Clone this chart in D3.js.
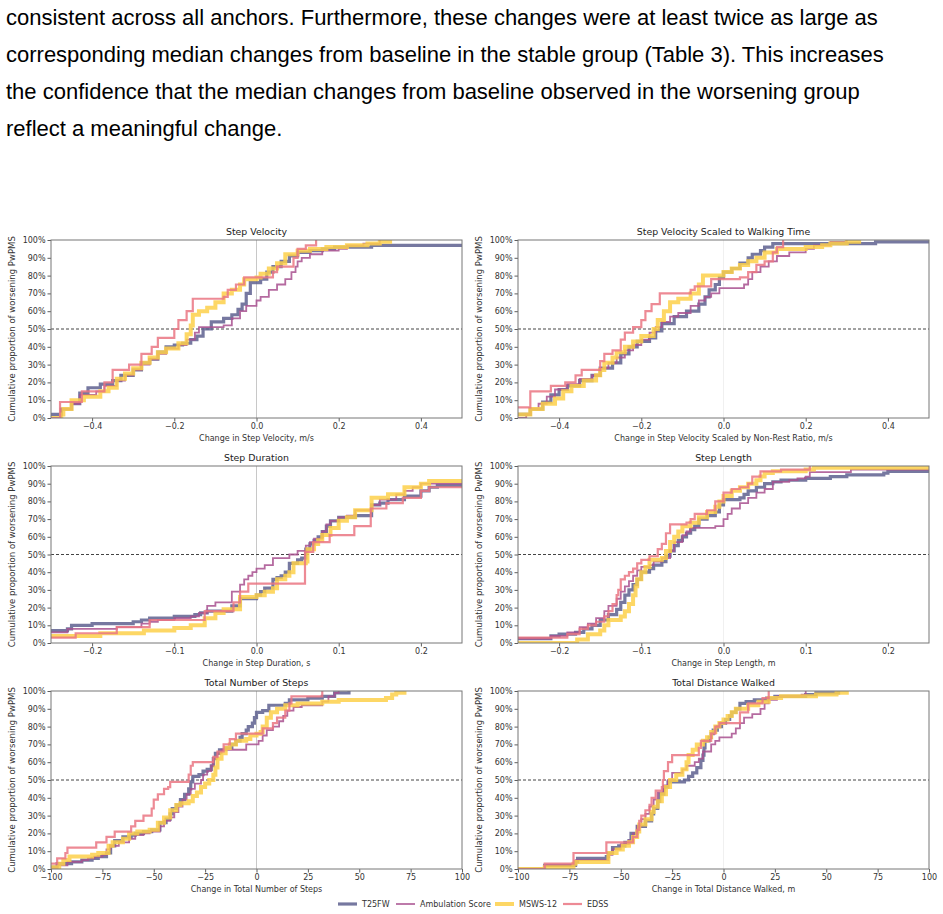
<!DOCTYPE html>
<html>
<head>
<meta charset="utf-8">
<script src="https://cdn.jsdelivr.net/npm/d3@7"></script>
<style>
  body { margin: 0; background: #fff; }
  svg { display: block; }
</style>
</head>
<body>
<svg id="chart"></svg>
<script>
// paragraph above the figure
const paragraph = [
  "consistent across all anchors. Furthermore, these changes were at least twice as large as",
  "corresponding median changes from baseline in the stable group (Table 3). This increases",
  "the confidence that the median changes from baseline observed in the worsening group",
  "reflect a meaningful change."
]

const anchors = ["T25FW", "Ambulation Score", "MSWS-12", "EDSS"]
const yTicks = [0, 10, 20, 30, 40, 50, 60, 70, 80, 90, 100]

// each series: [change from baseline, cumulative % of worsening PwPMS]
const velT25 = [[-0.6,2],[-0.475,5],[-0.45,8],[-0.43,14],[-0.41,17],[-0.38,19],[-0.35,21],[-0.33,24],[-0.3,27],[-0.28,31],[-0.26,33],[-0.24,37],[-0.22,40],[-0.2,41],[-0.18,42],[-0.16,44],[-0.145,46],[-0.13,50],[-0.11,54],[-0.08,56],[-0.06,58],[-0.045,61],[-0.035,64],[-0.025,70],[-0.015,76],[0.01,78],[0.025,82],[0.04,85],[0.06,88],[0.08,91],[0.1,93],[0.13,94],[0.16,95],[0.19,96],[0.28,97],[0.6,97]]
const velAmb = [[-0.475,5],[-0.45,8],[-0.43,13],[-0.39,15],[-0.37,18],[-0.34,21],[-0.32,24],[-0.3,27],[-0.28,30],[-0.26,33],[-0.24,36],[-0.22,39],[-0.19,41],[-0.17,44],[-0.15,48],[-0.14,51],[-0.08,52],[-0.06,56],[-0.04,60],[-0.025,63],[0,66],[0.01,68],[0.03,72],[0.05,75],[0.07,78],[0.085,82],[0.095,85],[0.1,88],[0.11,90],[0.13,92],[0.16,94],[0.2,95],[0.22,97],[0.26,98],[0.3,100]]
const velMsws = [[-0.475,2],[-0.47,5],[-0.45,10],[-0.42,12],[-0.38,15],[-0.36,17],[-0.34,22],[-0.32,25],[-0.3,28],[-0.28,31],[-0.26,34],[-0.24,37],[-0.22,39],[-0.19,42],[-0.17,47],[-0.16,52],[-0.155,58],[-0.14,60],[-0.12,62],[-0.1,65],[-0.08,70],[-0.06,72],[-0.04,75],[-0.03,78],[0,79],[0.01,81],[0.03,84],[0.05,87],[0.07,92],[0.1,94],[0.13,95],[0.17,96],[0.22,97],[0.27,98],[0.3,99],[0.325,100]]
const velEdss = [[-0.478,9],[-0.425,15],[-0.37,20],[-0.35,27],[-0.31,30],[-0.28,36],[-0.255,40],[-0.24,45],[-0.2,50],[-0.19,55],[-0.17,60],[-0.155,67],[-0.08,68],[-0.07,72],[-0.05,75],[-0.03,79],[0.04,82],[0.05,85],[0.09,90],[0.1,95],[0.12,97],[0.145,100]]

const velsT25 = [[-0.6,2],[-0.47,5],[-0.44,9],[-0.42,13],[-0.4,16],[-0.38,18],[-0.35,21],[-0.32,24],[-0.3,28],[-0.27,31],[-0.25,36],[-0.23,40],[-0.21,43],[-0.18,45],[-0.165,49],[-0.15,53],[-0.12,57],[-0.09,60],[-0.06,64],[-0.045,68],[-0.035,72],[-0.02,75],[-0.01,79],[0,82],[0.02,84],[0.04,87],[0.06,90],[0.07,92],[0.09,94],[0.1,96],[0.12,98],[0.37,99],[0.6,99]]
const velsAmb = [[-0.48,2],[-0.47,5],[-0.45,8],[-0.43,12],[-0.41,16],[-0.38,19],[-0.35,22],[-0.32,24],[-0.3,28],[-0.28,31],[-0.26,34],[-0.24,38],[-0.22,41],[-0.2,44],[-0.18,48],[-0.165,51],[-0.15,54],[-0.13,57],[-0.11,59],[-0.08,63],[-0.06,66],[-0.045,68],[-0.03,70],[-0.01,73],[0.05,75],[0.06,78],[0.07,82],[0.09,85],[0.11,88],[0.13,91],[0.16,93],[0.2,95],[0.22,97],[0.26,99],[0.3,100]]
const velsMsws = [[-0.6,2],[-0.47,5],[-0.44,8],[-0.41,11],[-0.39,15],[-0.37,18],[-0.34,21],[-0.31,24],[-0.3,27],[-0.29,31],[-0.27,34],[-0.26,37],[-0.24,40],[-0.22,43],[-0.2,46],[-0.17,50],[-0.16,55],[-0.145,60],[-0.13,65],[-0.11,67],[-0.08,70],[-0.06,75],[-0.05,80],[0,82],[0.02,84],[0.04,86],[0.06,88],[0.08,90],[0.1,93],[0.13,95],[0.2,96],[0.24,97],[0.26,98],[0.3,99],[0.33,100]]
const velsEdss = [[-0.6,6],[-0.47,15],[-0.42,18],[-0.385,20],[-0.36,24],[-0.345,27],[-0.3,32],[-0.29,36],[-0.27,38],[-0.25,44],[-0.24,48],[-0.22,51],[-0.2,55],[-0.19,60],[-0.175,64],[-0.155,70],[-0.08,72],[-0.07,74],[-0.03,78],[0.04,79],[0.06,82],[0.08,86],[0.1,88],[0.12,93],[0.13,96],[0.145,100]]

const durT25 = [[-0.3,7],[-0.23,8],[-0.225,10],[-0.2,11],[-0.15,12],[-0.14,13],[-0.13,14],[-0.1,15],[-0.075,16],[-0.068,17],[-0.06,18],[-0.03,21],[-0.02,25],[0,27],[0.005,29],[0.01,31],[0.02,36],[0.025,37],[0.03,38],[0.035,40],[0.04,45],[0.05,47],[0.055,48],[0.06,53],[0.065,56],[0.07,58],[0.075,60],[0.08,63],[0.085,66],[0.09,69],[0.1,71],[0.12,72],[0.14,78],[0.15,79],[0.16,81],[0.18,83],[0.2,86],[0.21,88],[0.22,89],[0.3,89]]
const durAmb = [[-0.3,6],[-0.23,8],[-0.17,9],[-0.14,11],[-0.13,12],[-0.12,13],[-0.1,14],[-0.08,15],[-0.07,17],[-0.06,21],[-0.05,23],[-0.03,29],[-0.02,33],[-0.015,36],[-0.01,38],[-0.005,40],[0,42],[0.01,44],[0.02,48],[0.04,50],[0.05,52],[0.06,55],[0.065,57],[0.07,59],[0.08,63],[0.085,67],[0.09,69],[0.1,71],[0.11,72],[0.12,75],[0.14,78],[0.15,81],[0.17,84],[0.18,86],[0.19,88],[0.2,90],[0.3,90]]
const durMsws = [[-0.3,4],[-0.19,5.5],[-0.137,7],[-0.1,8.5],[-0.08,10],[-0.063,14],[-0.05,17],[-0.04,19],[-0.02,26],[0,27],[0.01,29],[0.02,31],[0.025,36],[0.035,38],[0.04,40],[0.045,45],[0.06,46],[0.062,53],[0.07,56],[0.075,58],[0.08,61],[0.09,65],[0.1,69],[0.11,71],[0.12,75],[0.14,82],[0.16,84],[0.18,88],[0.2,90],[0.21,91.5],[0.3,91.5]]
const durEdss = [[-0.3,3],[-0.22,5.5],[-0.17,9],[-0.13,13],[-0.063,18],[-0.028,23],[-0.02,29],[-0.01,33.6],[0.059,51.5],[0.069,57],[0.089,61],[0.119,66],[0.139,76],[0.158,79],[0.178,82],[0.2,86],[0.21,88],[0.3,88]]

const lenT25 = [[-0.3,2.5],[-0.21,4],[-0.2,5],[-0.18,6],[-0.17,8],[-0.16,10],[-0.15,13],[-0.14,16],[-0.13,19],[-0.125,23],[-0.12,27],[-0.115,30],[-0.11,33],[-0.105,36],[-0.1,40],[-0.09,42],[-0.085,44],[-0.075,46],[-0.07,49],[-0.065,52],[-0.06,55],[-0.055,58],[-0.05,60],[-0.045,62],[-0.04,64],[-0.035,66],[-0.03,70],[-0.02,72],[-0.01,74],[-0.005,78],[0,81],[0.02,82],[0.025,84],[0.03,86],[0.04,88],[0.05,90],[0.06,91],[0.07,92],[0.1,93],[0.13,94],[0.15,95],[0.195,96],[0.2,97],[0.3,97]]
const lenAmb = [[-0.3,2.5],[-0.21,4],[-0.19,6],[-0.175,9],[-0.165,11],[-0.155,14],[-0.145,18],[-0.14,21],[-0.13,25],[-0.125,29],[-0.12,32],[-0.115,35],[-0.11,38],[-0.105,41],[-0.1,43],[-0.09,44],[-0.085,46],[-0.075,48],[-0.065,52],[-0.06,57],[-0.05,61],[-0.045,63],[-0.04,65],[-0.01,66],[0,70],[0.005,73],[0.01,76],[0.02,79],[0.03,82],[0.04,85],[0.05,87],[0.06,91],[0.08,92],[0.09,93],[0.1,94],[0.105,96.5],[0.155,98],[0.3,98]]
const lenMsws = [[-0.178,2],[-0.165,5],[-0.15,7],[-0.145,10],[-0.14,13],[-0.125,15],[-0.12,18],[-0.115,22],[-0.11,27],[-0.107,32],[-0.105,36],[-0.1,40],[-0.095,43],[-0.09,47],[-0.075,48],[-0.07,52],[-0.065,57],[-0.06,60],[-0.055,63],[-0.05,66],[-0.04,68],[-0.03,71],[-0.02,74],[-0.01,77],[-0.005,80],[0,83],[0.01,86],[0.02,88],[0.03,90],[0.04,92],[0.045,94],[0.05,96],[0.06,97],[0.1,98],[0.11,99],[0.3,99]]
const lenEdss = [[-0.3,3],[-0.19,5],[-0.175,8],[-0.165,10],[-0.155,12],[-0.145,15],[-0.14,18],[-0.135,22],[-0.13,27],[-0.128,30],[-0.125,36],[-0.12,38],[-0.115,40],[-0.11,42],[-0.105,45],[-0.1,47],[-0.09,49],[-0.08,53],[-0.075,56],[-0.07,62],[-0.065,67],[-0.045,68],[-0.04,70],[-0.035,73],[-0.02,75],[-0.01,80],[0,85],[0.01,87],[0.02,88],[0.03,90],[0.035,94],[0.045,97],[0.07,98],[0.105,100]]

const stepsT25 = [[-120,1],[-97,3],[-90,4],[-85,5],[-80,6],[-77,7],[-73,9],[-71,13],[-69,16],[-65,18],[-61,19],[-59,20],[-55,21],[-51,22],[-47,26],[-44,28],[-42,31],[-41,34],[-39,36],[-37,39],[-35,42],[-33,45],[-32,49],[-31,52],[-28,53],[-26,55],[-24,56],[-22,58],[-21,62],[-20,65],[-18,67],[-15,68],[-12,70],[-10,72],[-8,74],[-7,76],[-5,78],[-4,80],[-2,82],[-1,85],[0,88],[3,89],[6,92],[14,93],[16,95],[25,96],[32,97],[38,99],[45,100]]
const stepsAmb = [[-120,0.5],[-97,2],[-92,4],[-85,5],[-82,6],[-79,7],[-75,8],[-73,11],[-71,13],[-67,15],[-62,17],[-59,19],[-55,20],[-52,21],[-47,24],[-45,27],[-42,29],[-40,32],[-38,35],[-36,39],[-34,42],[-32,45],[-30,48],[-27,50],[-26,53],[-24,55],[-22,58],[-21,62],[-19,65],[-17,67],[-5,70],[1,72],[3,75],[5,78],[8,80],[11,83],[13,86],[15,89],[18,91],[22,92],[32,94],[35,97],[38,99],[40,100]]
const stepsMsws = [[-120,1],[-96,3],[-94,5],[-91,7],[-80,8],[-77,9],[-72,13],[-70,15],[-65,17],[-62,20],[-58,21],[-52,22],[-48,26],[-45,29],[-42,33],[-39,36],[-37,37],[-33,38],[-31,41],[-29,43],[-27,46],[-25,48],[-23,50],[-21,53],[-20,57],[-19,62],[-17,65],[-15,68],[-13,70],[-10,72],[-5,73],[-3,75],[0,76],[2,77],[3,80],[5,85],[7,88],[10,90],[14,92],[20,93],[32,94],[40,95],[63,96],[66,98],[68,99],[72,100]]
const stepsEdss = [[-120,3],[-97,6],[-93,9],[-92,12],[-78,15],[-73,18],[-69,21],[-61,24],[-59,27],[-55,30],[-51,34],[-50,39],[-48,42],[-45,45],[-43,46],[-42,49],[-33,53],[-32,58],[-31,60],[-21,63],[-19,66],[-16,70],[-13,73],[-10,76],[3,79],[8,82],[10,85],[14,89],[16,93],[17,97],[32,100]]

const distT25 = [[-87,2],[-72,4],[-71,6],[-57,7],[-56,9],[-54,12],[-51,13],[-48,15],[-46,16],[-45,20],[-42,24],[-38,27],[-35,31],[-34,34],[-32,38],[-31,42],[-29,46],[-27,49],[-19,50],[-17,52],[-15,54],[-13,57],[-11,61],[-10,64],[-9.5,68],[-9,72],[-7,74],[-6,76],[-5,78],[-3,80],[-1,82],[1,84],[3,86],[4,88],[6,90],[8,93],[11,94],[15,95],[21,96],[25,97],[40,98],[45,99],[56,100]]
const distAmb = [[-87,2],[-73,3],[-72,5],[-56,8],[-54,11],[-50,14],[-46,16],[-44,20],[-42,24],[-40,28],[-38,31],[-36,35],[-34,39],[-32,43],[-29,47],[-27,50],[-25,54],[-20,56],[-18,58],[-14,60],[-12,62],[-10,66],[-6,70],[-4,72],[-2,74],[4,76],[6,79],[8,82],[10,85],[14,87],[18,90],[20,93],[22,95],[26,97],[38,98],[40,100]]
const distMsws = [[-87,1],[-73,3],[-72,4],[-56,9],[-52,11],[-49,13],[-46,15],[-44,18],[-42,21],[-41,25],[-38,28],[-35,32],[-34,35],[-32,38],[-30,42],[-28,46],[-26,50],[-23,53],[-20,56],[-18,60],[-17,64],[-15,67],[-13,70],[-10,72],[-8,74],[-6,77],[-4,80],[-2,82],[0,84],[2,86],[4,88],[6,90],[12,92],[17,94],[22,96],[28,97],[45,98],[55,99],[60,100]]
const distEdss = [[-87,3],[-73,9],[-57,15],[-44,18],[-42,22],[-41,27],[-40,30],[-38,33],[-36,36],[-35,40],[-33,44],[-30,46],[-29.5,50],[-29,55],[-27,60],[-25,64],[-12,68],[-11,72],[-6,76],[-4,80],[-2,82],[8,88],[12,93],[19,96],[22,100]]

const W = 943, H = 914
const svg = d3.select("#chart").attr("width", W).attr("height", H)

// text paragraph
svg.append("g").selectAll("text")
  .data(paragraph)
  .join("text")
  .attr("x", 6)
  .attr("y", (d, i) => 25 + i * 37)
  .attr("font-family", "'Liberation Sans', Arial, sans-serif")
  .attr("font-size", 22)
  .attr("fill", "#000")
  .text(d => d)

const styles = [
  {color: "#5e608f", width: 3.2, opacity: 0.85},
  {color: "#a8508f", width: 1.8, opacity: 0.85},
  {color: "#fdd04a", width: 4, opacity: 0.85},
  {color: "#ea7582", width: 2.2, opacity: 0.85}
]

const cols = [[51, 462], [518, 929]]
const rows = [[240, 418], [466, 643], [691, 869]]
const font = "'DejaVu Sans', sans-serif"

const panels = [
  {title: "Step Velocity", xlabel: "Change in Step Velocity, m/s", domain: [-0.5, 0.5], ticks: [-0.4, -0.2, 0, 0.2, 0.4], fmt: ".1f", series: [velT25, velAmb, velMsws, velEdss], zero: "#c8c8c8"},
  {title: "Step Velocity Scaled to Walking Time", xlabel: "Change in Step Velocity Scaled by Non-Rest Ratio, m/s", domain: [-0.5, 0.5], ticks: [-0.4, -0.2, 0, 0.2, 0.4], fmt: ".1f", series: [velsT25, velsAmb, velsMsws, velsEdss], zero: "#f0f0f0"},
  {title: "Step Duration", xlabel: "Change in Step Duration, s", domain: [-0.25, 0.25], ticks: [-0.2, -0.1, 0, 0.1, 0.2], fmt: ".1f", series: [durT25, durAmb, durMsws, durEdss], zero: "#c8c8c8"},
  {title: "Step Length", xlabel: "Change in Step Length, m", domain: [-0.25, 0.25], ticks: [-0.2, -0.1, 0, 0.1, 0.2], fmt: ".1f", series: [lenT25, lenAmb, lenMsws, lenEdss], zero: "#f0f0f0"},
  {title: "Total Number of Steps", xlabel: "Change in Total Number of Steps", domain: [-100, 100], ticks: [-100, -75, -50, -25, 0, 25, 50, 75, 100], fmt: "d", series: [stepsT25, stepsAmb, stepsMsws, stepsEdss], zero: "#c8c8c8"},
  {title: "Total Distance Walked", xlabel: "Change in Total Distance Walked, m", domain: [-100, 100], ticks: [-100, -75, -50, -25, 0, 25, 50, 75, 100], fmt: "d", series: [distT25, distAmb, distMsws, distEdss], zero: "#f0f0f0"}
]

panels.forEach((p, i) => {
  const [x0, x1] = cols[i % 2]
  const [y0, y1] = rows[Math.floor(i / 2)]
  const x = d3.scaleLinear().domain(p.domain).range([x0, x1])
  const y = d3.scaleLinear().domain([0, 100]).range([y1, y0])
  const g = svg.append("g")

  g.append("clipPath").attr("id", "clip" + i)
    .append("rect").attr("x", x0).attr("y", y0).attr("width", x1 - x0).attr("height", y1 - y0)

  // zero line and median line
  g.append("line").attr("x1", x(0)).attr("x2", x(0)).attr("y1", y0).attr("y2", y1)
    .attr("stroke", p.zero).attr("stroke-width", 1)
  g.append("line").attr("x1", x0).attr("x2", x1).attr("y1", y(50)).attr("y2", y(50))
    .attr("stroke", "#444").attr("stroke-width", 1).attr("stroke-dasharray", "3,2")

  const line = d3.line()
    .x(d => x(d[0]))
    .y(d => y(d[1]))
    .curve(d3.curveStepAfter)

  p.series.forEach((s, k) => {
    // ecdf starts at 0 far to the left
    const pts = [[p.domain[0] - (p.domain[1] - p.domain[0]), 0], [s[0][0], 0]].concat(s)
    g.append("path")
      .attr("clip-path", `url(#clip${i})`)
      .attr("d", line(pts))
      .attr("fill", "none")
      .attr("stroke", styles[k].color)
      .attr("stroke-width", styles[k].width)
      .attr("stroke-opacity", styles[k].opacity)
  })

  // axes
  const xAxis = g.append("g").attr("transform", `translate(0,${y1})`)
    .call(d3.axisBottom(x).tickValues(p.ticks).tickFormat(d3.format(p.fmt)).tickSize(3.5).tickPadding(2))
  const yAxis = g.append("g").attr("transform", `translate(${x0},0)`)
    .call(d3.axisLeft(y).tickValues(yTicks).tickFormat(d => d + "%").tickSize(3.5).tickPadding(2))
  ;[xAxis, yAxis].forEach(a => {
    a.select(".domain").remove()
    a.selectAll(".tick line").attr("stroke", "#333").attr("stroke-width", 0.8)
    a.selectAll("text").attr("font-family", font).attr("font-size", 8).attr("fill", "#333")
  })

  g.append("rect").attr("x", x0).attr("y", y0).attr("width", x1 - x0).attr("height", y1 - y0)
    .attr("fill", "none").attr("stroke", "#777").attr("stroke-width", 1)

  g.append("text").attr("x", (x0 + x1) / 2).attr("y", y0 - 5)
    .attr("text-anchor", "middle").attr("font-family", font).attr("font-size", 9.4).attr("fill", "#222")
    .text(p.title)
  g.append("text").attr("x", (x0 + x1) / 2).attr("y", y1 + 23)
    .attr("text-anchor", "middle").attr("font-family", font).attr("font-size", 8).attr("fill", "#333")
    .text(p.xlabel)
  g.append("text")
    .attr("transform", `translate(${x0 - 36},${(y0 + y1) / 2}) rotate(-90)`)
    .attr("text-anchor", "middle").attr("font-family", font).attr("font-size", 8.5).attr("fill", "#333")
    .text("Cumulative proportion of worsening PwPMS")
})

// legend
const legendX = [338, 396, 495, 563]
const legend = svg.append("g")
anchors.forEach((a, k) => {
  legend.append("line")
    .attr("x1", legendX[k]).attr("x2", legendX[k] + 19).attr("y1", 904).attr("y2", 904)
    .attr("stroke", styles[k].color).attr("stroke-width", styles[k].width).attr("stroke-opacity", styles[k].opacity)
  legend.append("text")
    .attr("x", legendX[k] + 24).attr("y", 907)
    .attr("font-family", font).attr("font-size", 8).attr("fill", "#333")
    .text(a)
})
</script>
</body>
</html>
